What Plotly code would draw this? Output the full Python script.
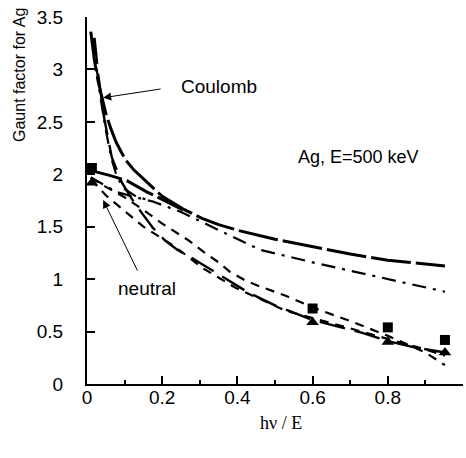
import plotly.graph_objects as go

# ---- data ----
coul_thick_x = [0.01, 0.02, 0.03, 0.04, 0.05, 0.063, 0.077, 0.09, 0.104, 0.125, 0.149, 0.175, 0.2, 0.255, 0.306, 0.35, 0.407, 0.5, 0.6, 0.7, 0.8, 0.952]
coul_thick_y = [3.36, 3.08, 2.88, 2.72, 2.58, 2.44, 2.31, 2.22, 2.13, 2.04, 1.96, 1.87, 1.79, 1.67, 1.58, 1.52, 1.46, 1.38, 1.31, 1.24, 1.18, 1.125]

neut_thick_x = [0.016, 0.06, 0.106, 0.13, 0.16, 0.2, 0.255]
neut_thick_y = [2.03, 1.99, 1.94, 1.89, 1.83, 1.76, 1.66]

coul_dd_x = [0.015, 0.025, 0.035, 0.05, 0.065, 0.08, 0.1, 0.13, 0.175]
coul_dd_y = [3.3, 3.0, 2.75, 2.42, 2.15, 1.97, 1.86, 1.79, 1.74]

neut_dd_x = [0.01, 0.08, 0.13, 0.175, 0.25, 0.32, 0.39, 0.46, 0.6, 0.8, 0.952]
neut_dd_y = [1.97, 1.83, 1.78, 1.74, 1.64, 1.52, 1.40, 1.28, 1.16, 1.00, 0.88]

coul_ld_x = [0.02, 0.03, 0.045, 0.066, 0.093, 0.12, 0.146, 0.175, 0.207, 0.24, 0.28, 0.354, 0.43, 0.5, 0.6, 0.73, 0.8, 0.87, 0.952]
coul_ld_y = [3.3, 2.95, 2.55, 2.16, 1.92, 1.76, 1.63, 1.49, 1.37, 1.28, 1.2, 1.04, 0.87, 0.75, 0.61, 0.49, 0.41, 0.35, 0.30]

short1_x = [0.01, 0.05, 0.1, 0.15, 0.2, 0.27, 0.31, 0.35, 0.38, 0.42, 0.46, 0.53, 0.6, 0.7, 0.8, 0.9, 0.952]
short1_y = [1.97, 1.88, 1.78, 1.66, 1.53, 1.37, 1.26, 1.16, 1.07, 0.99, 0.93, 0.84, 0.73, 0.60, 0.46, 0.30, 0.18]

short2_x = [0.01, 0.05, 0.1, 0.15, 0.234, 0.31, 0.394, 0.527, 0.6, 0.7, 0.8, 0.9, 0.952]
short2_y = [1.95, 1.80, 1.65, 1.50, 1.31, 1.10, 0.92, 0.70, 0.63, 0.53, 0.43, 0.33, 0.27]

sq_x = [0.013, 0.6, 0.8, 0.952]
sq_y = [2.06, 0.72, 0.54, 0.42]
tri_x = [0.013, 0.6, 0.8, 0.952]
tri_y = [1.92, 0.59, 0.40, 0.30]

x_ticks = [0, 0.2, 0.4, 0.6, 0.8, 1]
x_tick_labels = ["0", "0.2", "0.4", "0.6", "0.8", "1"]
y_ticks = [0, 0.5, 1, 1.5, 2, 2.5, 3, 3.5]
y_tick_labels = ["0", "0.5", "1", "1.5", "2", "2.5", "3", "3.5"]

FONT = "Liberation Sans, Arial, sans-serif"

fig = go.Figure()

def add_line(x, y, dash, width):
    fig.add_trace(go.Scatter(x=x, y=y, mode="lines", line=dict(color="black", width=width, dash=dash),
                             showlegend=False, hoverinfo="skip"))

add_line(coul_thick_x, coul_thick_y, "40px,5px", 3)
add_line(neut_thick_x, neut_thick_y, "30px,5px", 3)
add_line(coul_dd_x, coul_dd_y, "14px,7px,3px,7px", 2.2)
add_line(neut_dd_x, neut_dd_y, "14px,7px,3px,7px", 2.2)
add_line(coul_ld_x, coul_ld_y, "26px,10px", 2.4)
add_line(short1_x, short1_y, "9px,7px", 2.2)
add_line(short2_x, short2_y, "9px,7px", 2.2)

fig.add_trace(go.Scatter(x=sq_x, y=sq_y, mode="markers", marker=dict(symbol="square", size=10, color="black"),
                         showlegend=False, cliponaxis=False))
fig.add_trace(go.Scatter(x=tri_x, y=tri_y, mode="markers", marker=dict(symbol="triangle-up", size=11, color="black"),
                         showlegend=False, cliponaxis=False))

# arrows
fig.add_annotation(x=0.043, y=2.73, xref="x", yref="y", ax=59, ay=-9, text="", showarrow=True,
                   arrowhead=2, arrowsize=1.6, arrowwidth=1, arrowcolor="black")
fig.add_annotation(x=0.043, y=1.754, xref="x", yref="y", ax=35, ay=72, text="", showarrow=True,
                   arrowhead=2, arrowsize=1.6, arrowwidth=1, arrowcolor="black")

# texts
def ptext(px, py, txt, size, family=FONT, angle=0):
    fig.add_annotation(x=(px - 87) / 376, y=(384 - py) / 367, xref="paper", yref="paper",
                       text=txt, showarrow=False, textangle=angle,
                       font=dict(family=family, size=size, color="black"),
                       xanchor="center", yanchor="middle")

ptext(219, 86, "Coulomb", 19)
ptext(147, 288, "neutral", 19)
ptext(358, 157, "Ag, E=500 keV", 18)
ptext(19, 75, "Gaunt factor for Ag", 16, angle=-90)
ptext(281, 423, "hν / E", 18, family="Liberation Serif, Times New Roman, serif")

fig.update_layout(
    width=466, height=458,
    margin=dict(l=87, r=3, t=17, b=74, autoexpand=False),
    paper_bgcolor="white", plot_bgcolor="white",
    font=dict(family=FONT, size=19, color="black"),
)
fig.update_xaxes(range=[0, 1], tickvals=x_ticks, ticktext=x_tick_labels, automargin=False,
                 ticks="inside", ticklen=8, tickwidth=1.5, tickcolor="black",
                 showline=True, linecolor="black", linewidth=2, showgrid=False, zeroline=False,
                 minor=dict(ticks="inside", ticklen=4, tickwidth=1.5, tickcolor="black", dtick=0.1, showgrid=False),
                 tickfont=dict(size=19), ticklabelstandoff=-5)
fig.update_yaxes(range=[0, 3.5], tickvals=y_ticks, ticktext=y_tick_labels, automargin=False,
                 ticks="inside", ticklen=8, tickwidth=1.5, tickcolor="black",
                 showline=True, linecolor="black", linewidth=2, showgrid=False, zeroline=False,
                 tickfont=dict(size=19), ticklabelstandoff=18)

fig.write_html("out.html", post_script="document.body.style.margin='0';",
               config={"displayModeBar": False})
